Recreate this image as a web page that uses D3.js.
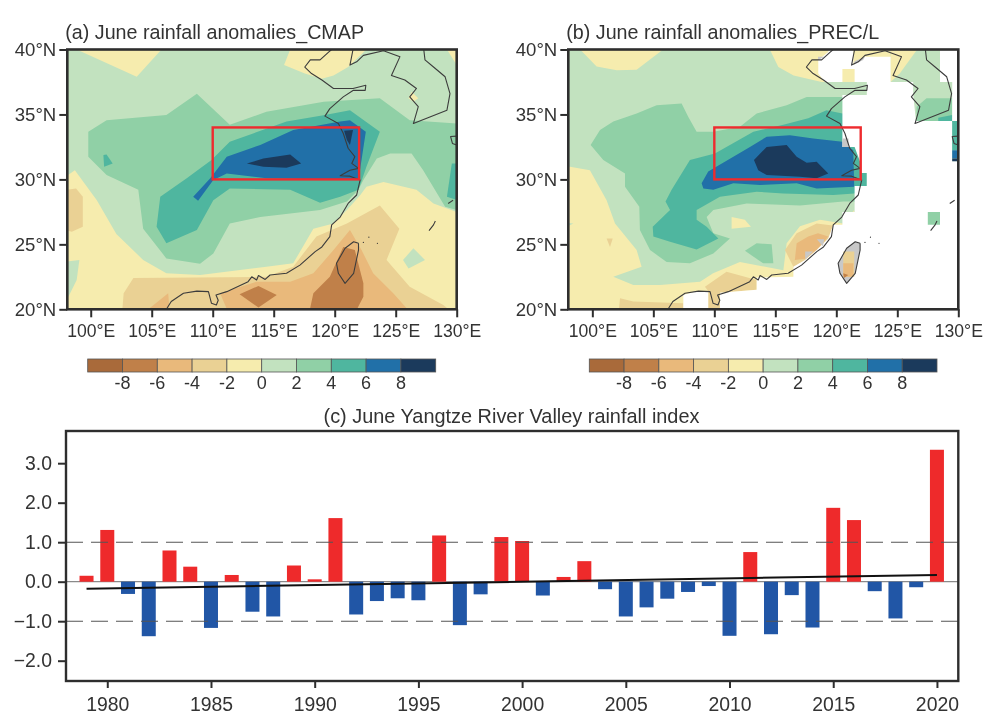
<!DOCTYPE html>
<html><head><meta charset="utf-8">
<script src="https://cdn.jsdelivr.net/npm/d3@7"></script>
<style>
html,body{margin:0;padding:0;background:#fff}
svg{display:block;filter:blur(0.45px)}
text{font-family:"Liberation Sans",Arial,sans-serif;fill:#333}
</style></head><body>
<svg id="chart" width="1000" height="725"></svg>
<script>
// ---------- time series (panel c) ----------
const years = d3.range(1979, 2021);
const indexValues = [0.15,1.31,-0.31,-1.38,0.79,0.38,-1.17,0.17,-0.76,-0.88,0.41,0.06,1.61,-0.83,-0.49,-0.42,-0.47,1.17,-1.10,-0.32,1.13,1.03,-0.35,0.12,0.52,-0.19,-0.88,-0.65,-0.43,-0.26,-0.11,-1.37,0.75,-1.33,-0.34,-1.16,1.87,1.56,-0.24,-0.93,-0.14,3.34];
const trendYears = [1979, 2020];
const trendValues = [-0.18, 0.17];
const yTicks = [-2,-1,0,1,2,3];
const xTicks = [1980,1985,1990,1995,2000,2005,2010,2015,2020];
const refLines = [-1,1];

// ---------- maps: shared ----------
const lonTicks = [100,105,110,115,120,125,130];
const latTicks = [20,25,30,35,40];
const levels = [-8,-6,-4,-2,0,2,4,6,8];
const levelColors = ["#a96a3a","#c08049","#e9b97b","#ead194","#f6ecae","#c2e2bf","#90d0a6","#4fb69f","#2170a8","#1b3a5c"];
const boxLon = [110,122], boxLat = [30,34];

// coastlines (lon, lat)
const coastMain = [[106.2,20],[106.6,20.6],[107.6,21.23],[108.7,21.4],[109.65,21.36],[109.9,20.46],[110.3,20.33],[110.45,20.7],[110.27,21.1],[111.15,21.36],[112.9,22.13],[113.2,22.5],[113.6,22.26],[113.75,22.6],[114.3,22.3],[114.7,22.64],[116.05,22.77],[117.15,23.4],[118.4,24.44],[118.95,24.8],[119.6,25.6],[119.75,26.5],[120.45,27.1],[121.1,28.15],[121.8,28.8],[122.08,29.95],[121.25,30.25],[120.45,30.28],[121.25,30.7],[121.95,30.85],[121.4,31.23],[121.65,31.75],[121.1,32.4],[120.7,33.55],[120.3,34.3],[119.2,34.87],[119.6,35.45],[120.7,36.35],[121.5,36.85],[122.5,36.85],[122.55,37.25],[121.5,37],[119.9,37],[118.95,37.65],[118.1,38.15],[117.55,38.65],[118,39.2],[118.8,39.2],[119.5,39.8],[119.75,40]];
const coastNorth = [[121.5,40],[121.25,38.8],[121.8,39.05],[122.35,39.55],[124,39.9],[125.35,39.45],[124.65,38],[125.75,37.65],[126.7,37],[126.15,36.35],[126.85,35.6],[126.45,34.3],[127.8,34.8],[129.2,35.33],[129.45,36.6],[129.05,37.9],[128.1,38.65],[127.4,39.2],[127.3,40]];
const coastTaiwan = [[121.95,25.08],[121.55,25.2],[120.85,24.7],[120.15,23.54],[120.3,22.77],[120.85,22],[121.55,22.77],[121.95,24.56],[121.95,25.08]];
const coastKyushu = [[130,33.33],[129.5,33.3],[129.65,32.77],[130,32.65]];
const coastIslet1 = [[129.3,28.15],[129.7,28.4]];
const coastIslet2 = [[127.73,26.05],[128.1,26.5],[128.25,26.8]];
const coastLines = [coastMain,coastNorth,coastTaiwan,coastKyushu,coastIslet1,coastIslet2];
const islandDots = [[122.35,25.15],[122.8,25.55],[123.5,25.08]];

// ---------- panel (a) contour polygons (lon, lat) ----------
const aGreen0 = [[97,40],[98.85,40],[103.77,37.9],[105.8,40],[116.35,40],[115.85,38.8],[117.55,38.15],[118.95,37.75],[119.9,38],[121.1,38.65],[122.6,40],[129.2,40],[130,38.8],[131,38.8],[131,27.3],[130,27.5],[128.1,28.15],[126.7,29.2],[124,29.8],[122.6,29.44],[122.1,28.8],[121,27.64],[119.9,26.6],[118.25,26.2],[116.6,23.54],[114.4,23.28],[108.96,22.64],[106.2,22.77],[104.3,23.8],[102.1,25.8],[100.5,28.4],[98.7,30.7],[97,29.6]];
const aGreen0b = [[97,23.54],[99.07,23.8],[98.85,22.26],[98.17,20.97],[97,20.97]];
const aGreen0c = [[125.6,23.8],[126.45,24.7],[127.4,23.8],[126.05,23.15]];
const aYellowKorea = [[126.05,36.25],[126.3,36.75],[126.85,36.25],[126.45,35.97]];
const aGreen2 = [[99.8,33.67],[101.3,34.55],[106.2,34.95],[108.7,36.6],[111.4,34.2],[114.4,35.2],[119.1,35.97],[123.7,36.25],[126.15,34.55],[130,34.3],[131,34.3],[131,27.6],[130,27.64],[129.05,27.9],[127.25,30.7],[126.3,32],[124.55,32],[123.45,31.6],[122.35,29.95],[121.95,29.2],[121,28.3],[118.8,27.64],[113.9,27.1],[111.4,26.6],[110.05,24.3],[108.96,23.5],[106.2,23.92],[104.3,26.2],[103.9,29.2],[101.3,30.33],[99.8,31.75]];
const aTeal = [[105.4,26.35],[105.7,28.67],[107.87,30.08],[109.9,31.5],[111.4,32.9],[116.05,34.45],[119.2,34.95],[121.25,35.33],[123.7,33.67],[122.6,30.97],[121.95,29.2],[120.45,28.67],[118.8,28.2],[116.35,29.2],[111.4,29.3],[110.05,28.4],[108.7,26.1],[106.2,25.08]];
const aTealB = [[101.04,31.87],[101.3,31.92],[101.8,31.23],[101.1,30.97]];
const aTealC = [[129.6,31.23],[131,31.23],[131,28.1],[129.2,28.67]];
const aBlue = [[108.4,28.67],[109.8,30.08],[111.15,31.75],[113.9,32.65],[116.6,33.8],[120.45,34.45],[121.25,34.55],[122.55,33.67],[121.95,29.95],[114.4,30.08],[111.15,30.45],[110.05,29.95],[108.8,28.35]];
const aNavy = [[112.8,31.23],[114.15,31.6],[116.35,31.92],[117.25,31.23],[116.05,30.9],[114.15,30.97]];
const aNavyB = [[120.77,33.75],[121.5,33.8],[121.25,32.65],[121,33.03]];
const aTan2 = [[102.55,19.5],[102.7,21.23],[103.5,22.4],[114.4,22.5],[116.6,23.28],[118.5,25.6],[121,26.6],[123.7,28],[125.3,26.2],[124.25,23.8],[126.15,21.74],[128.9,20.33],[130,19.5]];
const aTan2b = [[97,29.05],[98.8,29.3],[99.35,28.67],[99.35,26.35],[98.45,25.97],[97,26.35]];
const aTan4 = [[104.05,19.5],[106.35,21.23],[106.5,19.5]];
const aTan4b = [[110.6,21.23],[113.6,22.13],[116.35,22.13],[118.25,22.77],[119.9,24.56],[121.25,26.1],[122.2,24.56],[123.15,22.77],[124.8,21.23],[126.45,19.5],[111.4,19.5]];
const aTan6 = [[120.7,24.8],[121.65,24.56],[122.35,22],[122.35,20.97],[121.55,19.5],[117.85,19.5],[118.25,21.23],[119.6,22.5]];
const aTan6b = [[112.2,21.15],[113.75,21.8],[115.25,21.1],[113.75,20.13]];

// ---------- panel (b) contour polygons (lon, lat) ----------
const bGreen0 = [[97,40],[99,40],[100.35,38.7],[102,38.4],[103.63,38.45],[105.8,40],[114.55,40],[115.25,38.65],[116.5,38],[118.8,37.5],[124.45,37.5],[124.45,41],[131,41],[131,27],[121.47,27],[121.47,27.64],[120.57,26.6],[118.66,26.9],[117.02,26.4],[115.93,25.08],[115.66,23],[112.1,23.65],[109.9,22.77],[108.83,22.13],[105.55,21.87],[103.36,21.87],[101.72,22.5],[104.04,23.28],[103.63,24.56],[101.86,26.6],[101.17,28.4],[99.8,30.7],[98.17,30.97],[97,30.97]];
const bGreen0b = [[97,26.75],[98.45,26.6],[97,26]];
const bYellowA = [[111.42,27.1],[112.5,26.9],[113,26.35],[111.42,26.2]];
const bYellowB = [[124.45,41],[127.4,41],[125.2,38.15],[124.45,37.5]];
const bGreen2 = [[99.86,32.65],[100.63,33.8],[101.72,34.45],[103.63,35.08],[105.27,35.7],[107.32,35.85],[107.87,34.8],[108.55,33.67],[109.92,33.67],[112.1,34.05],[113.47,35.08],[115.93,35.7],[117.57,36.35],[120.5,36.35],[122.5,36.35],[122.5,27.7],[121.47,28.3],[120.57,28.3],[117.02,28],[112.65,28.15],[109.92,27.64],[109.37,27.1],[109.92,25.85],[111.28,25.46],[109.92,24.3],[108,23.54],[106.09,23.65],[104.73,24.56],[103.9,26.1],[103.85,27.9],[102.68,29.44],[102.68,30.45],[100.9,31.5]];
const bGreen2b = [[112.51,24.5],[113.47,25.08],[114.7,25],[114.84,23.54],[114,23.54]];
const bGreen2c = [[126.58,35.6],[127.4,36.25],[129.5,36.25],[129.5,34.4],[126.58,34.4]];
const bTeal = [[106,28.3],[106.5,29.2],[108,31.5],[110.05,32],[111.28,32.65],[113.2,33.67],[115.66,34.2],[117.7,34.7],[119.2,35.33],[120.5,35.08],[122.5,35.08],[122.5,29.5],[121.47,28.92],[119.75,28.8],[115.66,28.92],[113.47,29.05],[110.46,28.67],[108.55,27.64],[108.55,26.9],[109.37,26.35],[110.33,25.46],[108.55,24.6],[106.37,25.2],[105,25.6],[104.95,26.35],[106.37,27.64]];
const bTealB = [[128.36,34.75],[129.5,34.95],[129.5,34.4],[128.36,34.4]];
const bBlue = [[108.96,29.7],[109.5,30.6],[111.56,31.75],[112.92,32.5],[114.29,33.28],[116.2,33.4],[118.11,33.15],[120.5,32.9],[121.39,32.25],[121.47,29.44],[118.39,29.3],[116.75,29.7],[113.74,29.57],[111.56,29.7],[109.92,29.2],[109.1,29.3]];
const bNavy = [[113.25,31.5],[114.29,32.5],[115.93,32.65],[116.75,31.75],[117.57,31.28],[118.39,31.35],[119.34,30.45],[118.39,30.08],[117.02,30.2],[114.29,30.33],[113.6,30.7]];
const bTan2A = [[102.13,19.5],[102.27,20.85],[103.36,20.6],[107.46,20.46],[107.46,19.5]];
const bTan2B = [[109.23,21.74],[111,22.9],[113.47,22.26],[113.47,21.5],[110.46,21.28],[110.46,19.5],[109.5,19.5],[109.5,21.4]];
const bTan2C = [[116.48,23.28],[115.79,24.56],[116.75,25.85],[118.39,26.6],[120.5,26.35],[120.5,24],[116.48,23]];
const bTan2E = [[101.17,25.46],[101.67,25.46],[101.45,24.8]];
const bTan4 = [[116.6,23.8],[116.75,25.08],[117.7,25.6],[118.5,25.85],[119.34,25.6],[118.39,24.56],[117.43,23.9]];
// ocean / missing-data mask
const bMaskMain = [[110.46,19.5],[110.46,21.28],[113.47,21.5],[113.47,22.45],[116.48,22.5],[116.48,23.28],[117.43,23.8],[118.39,24.56],[119.34,25.46],[119.75,26.5],[120.5,26.5],[120.5,27.5],[121.5,27.5],[121.5,29.5],[122.5,29.5],[122.5,30.5],[121.95,30.5],[121.95,31.35],[121.5,32.5],[120.5,32.5],[120.5,36.5],[122.5,36.5],[122.5,37.5],[121.5,37.5],[121.5,38.5],[120.5,38.5],[120.5,37.5],[119.07,37.5],[118.52,38.15],[118.52,39.2],[119.34,39.8],[119.6,41],[121.4,41],[121.4,38.8],[122.35,39.45],[124.45,39.45],[124.45,37.5],[126.3,37.5],[126.3,36.6],[126.53,34.5],[129.5,34.5],[129.5,31.4],[131,31.4],[131,19.5]];
const bMaskPocket = [[107.46,19.5],[107.46,21.1],[108.55,21.4],[109.5,21.4],[109.5,19.5]];
const bMaskEast = [[128.5,41],[131,41],[131,34.5],[129.5,34.5],[129.5,37.5],[128.5,37.5]];
// patches of valid data surrounded by the mask
const bIslandBox = [[127.5,27.5],[128.5,27.5],[128.5,26.5],[127.5,26.5]];
const bEdgeTeal = [[129.5,34.5],[131,34.5],[131,32.25],[129.5,32.25]];
const bEdgeBlue = [[129.5,32.25],[131,32.25],[131,31.6],[129.5,31.6]];
const bEdgeNavy = [[129.5,31.6],[131,31.6],[131,31.4],[129.5,31.4]];
const bTaiwanTan2 = [[120.57,24.44],[121.47,24.44],[121.47,22.5],[120.57,22.5]];
const bTaiwanTan4 = [[120.57,23.54],[121.4,23.54],[121.4,22.5],[120.57,22.5]];
const bTaiwanTan6 = [[120.57,22.77],[120.98,22.64],[120.63,22.4]];
const bGrayPatches = [
  [[118.5,39.45],[119.05,39.45],[118.5,39.2]],
  [[121.4,38.8],[122.2,39.2],[122.35,39.45],[121.5,39.1]],
  [[120.5,33.15],[121,33.15],[121,32.5],[120.5,32.5]],
  [[118.4,25.4],[119,25.4],[118.9,24.85]],
  [[117.45,24.44],[118.1,24.44],[117.45,23.85]]
];

// ordered layers: [polygon, fill]
const c = levelColors;
const layersA = [
  [aGreen0,c[5]],[aGreen0b,c[5]],[aGreen0c,c[5]],[aYellowKorea,c[4]],
  [aTan2,c[3]],[aTan2b,c[3]],[aTan4,c[2]],[aTan4b,c[2]],[aTan6,c[1]],[aTan6b,c[1]],
  [aGreen2,c[6]],[aTeal,c[7]],[aTealB,c[7]],[aTealC,c[7]],[aBlue,c[8]],[aNavy,c[9]],[aNavyB,c[9]]
];
const layersB = [
  [bGreen0,c[5]],[bGreen0b,c[5]],[bYellowA,c[4]],[bYellowB,c[4]],
  [bTan2A,c[3]],[bTan2B,c[3]],[bTan2C,c[3]],[bTan2E,c[3]],[bTan4,c[2]],
  [bGreen2,c[6]],[bGreen2b,c[6]],[bGreen2c,c[6]],[bTeal,c[7]],[bTealB,c[7]],[bBlue,c[8]],[bNavy,c[9]],
  [bMaskMain,"#fff"],[bMaskPocket,"#fff"],[bMaskEast,"#fff"],
  [bIslandBox,c[6]],[bEdgeTeal,c[7]],[bEdgeBlue,c[8]],[bEdgeNavy,c[9]],
  ...bGrayPatches.map(p=>[p,"#c8c8c8"]),
  [coastTaiwan,"#c8c8c8"],[bTaiwanTan2,c[3]],[bTaiwanTan4,c[2]],[bTaiwanTan6,c[1]]
];

const svg = d3.select("#chart");
const ink = "#2e2e2e";
const fmtHyphen = v => (v<0?"-":"")+Math.abs(v);

function drawMap(cfg){
  const x = d3.scaleLinear().domain([cfg.lon0,130]).range([cfg.left,cfg.right]);
  const y = d3.scaleLinear().domain([20,40]).range([309.3,49.5]);
  const g = svg.append("g");
  const id = "clip"+cfg.id;
  g.append("clipPath").attr("id",id).append("rect")
    .attr("x",cfg.left).attr("y",49.5).attr("width",cfg.right-cfg.left).attr("height",259.8);
  const plot = g.append("g").attr("clip-path",`url(#${id})`);
  plot.append("rect").attr("x",cfg.left).attr("y",49.5).attr("width",cfg.right-cfg.left).attr("height",259.8).attr("fill",c[4]);
  const poly = d3.line().x(d=>x(d[0])).y(d=>y(d[1])).curve(d3.curveLinearClosed);
  const open = d3.line().x(d=>x(d[0])).y(d=>y(d[1]));
  plot.selectAll("path.layer").data(cfg.layers).join("path").attr("class","layer")
    .attr("d",d=>poly(d[0])).attr("fill",d=>d[1]);
  plot.selectAll("path.coast").data(coastLines).join("path").attr("class","coast")
    .attr("d",open).attr("fill","none").attr("stroke","#3c3c3c").attr("stroke-width",1.1).attr("stroke-linejoin","round");
  plot.selectAll("circle.dot").data(islandDots).join("circle").attr("class","dot")
    .attr("cx",d=>x(d[0])).attr("cy",d=>y(d[1])).attr("r",0.6).attr("fill","#333");
  plot.append("rect").attr("x",x(boxLon[0])).attr("y",y(boxLat[1]))
    .attr("width",x(boxLon[1])-x(boxLon[0])).attr("height",y(boxLat[0])-y(boxLat[1]))
    .attr("fill","none").attr("stroke","#ee2b2e").attr("stroke-width",2.4);
  g.append("rect").attr("x",cfg.left).attr("y",49.5).attr("width",cfg.right-cfg.left).attr("height",259.8)
    .attr("fill","none").attr("stroke",ink).attr("stroke-width",2.6);
  const xa = d3.axisBottom(x).tickValues(lonTicks).tickFormat(d=>d+"°E").tickSize(8).tickPadding(7);
  const ya = d3.axisLeft(y).tickValues(latTicks).tickFormat(d=>d+"°N").tickSize(8).tickPadding(3);
  const xg = g.append("g").attr("transform","translate(0,309.3)").call(xa);
  const yg = g.append("g").attr("transform",`translate(${cfg.left},0)`).call(ya);
  [xg,yg].forEach(a=>{
    a.select(".domain").remove();
    a.selectAll("line").attr("stroke",ink).attr("stroke-width",2);
    a.selectAll("text").attr("fill","#333");
  });
  xg.selectAll("text").attr("font-size",17.6);
  yg.selectAll("text").attr("font-size",18.6);
  g.append("text").attr("x",cfg.left-2).attr("y",38.5).attr("font-size",19.7).text(cfg.title);
  // colour bar
  const cb = d3.scaleBand().domain(d3.range(levelColors.length)).range([cfg.cb0,cfg.cb1]);
  g.selectAll("rect.cb").data(levelColors).join("rect").attr("class","cb")
    .attr("x",(d,i)=>cb(i)).attr("y",359).attr("width",cb.bandwidth()).attr("height",13)
    .attr("fill",d=>d).attr("stroke","#555").attr("stroke-width",0.8);
  g.selectAll("text.cbl").data(levels).join("text").attr("class","cbl")
    .attr("x",(d,i)=>cb(i+1)).attr("y",389).attr("text-anchor","middle").attr("font-size",18)
    .text(fmtHyphen);
}
drawMap({id:"a",lon0:98.08,left:67.3,right:456.7,cb0:87.7,cb1:435.7,layers:layersA,title:"(a) June rainfall anomalies_CMAP"});
drawMap({id:"b",lon0:98.03,left:568.3,right:958.3,cb0:589.3,cb1:937,layers:layersB,title:"(b) June rainfall anomalies_PREC/L"});

// ---------- panel (c) ----------
const bx = d3.scaleLinear().domain([1978.01,2021.03]).range([66,958.3]);
const by = d3.scaleLinear().domain([-2.514,3.815]).range([681,431]);
const gc = svg.append("g");
const barW = 14;
gc.append("line").attr("x1",66).attr("x2",958.3).attr("y1",by(0)).attr("y2",by(0)).attr("stroke","#8a8a8a").attr("stroke-width",1.2);
gc.selectAll("rect.bar").data(years).join("rect").attr("class","bar")
  .attr("x",d=>bx(d)-barW/2).attr("width",barW)
  .attr("y",(d,i)=>by(Math.max(0,indexValues[i])))
  .attr("height",(d,i)=>Math.abs(by(indexValues[i])-by(0)))
  .attr("fill",(d,i)=>indexValues[i]>=0?"#ee2a2b":"#2156a6");
gc.selectAll("line.ref").data(refLines).join("line").attr("class","ref")
  .attr("x1",66).attr("x2",958.3).attr("y1",d=>by(d)).attr("y2",d=>by(d))
  .attr("stroke","#555").attr("stroke-width",1.1).attr("stroke-dasharray","17,8");
gc.append("path").attr("d",d3.line().x((d,i)=>bx(d)).y((d,i)=>by(trendValues[i]))(trendYears))
  .attr("stroke","#111").attr("stroke-width",2).attr("fill","none");
gc.append("rect").attr("x",66).attr("y",431).attr("width",892.3).attr("height",250)
  .attr("fill","none").attr("stroke",ink).attr("stroke-width",2.4);
const bxa = d3.axisBottom(bx).tickValues(xTicks).tickFormat(d3.format("d")).tickSize(7).tickPadding(9);
const bya = d3.axisLeft(by).tickValues(yTicks).tickFormat(d=>(d<0?"\u2212":"")+Math.abs(d).toFixed(1)).tickSize(8).tickPadding(6);
[gc.append("g").attr("transform","translate(0,681)").call(bxa),
 gc.append("g").attr("transform","translate(66,0)").call(bya)].forEach(a=>{
  a.select(".domain").remove();
  a.selectAll("line").attr("stroke",ink).attr("stroke-width",2);
  a.selectAll("text").attr("font-size",19.4).attr("fill","#333");
});
gc.append("text").attr("x",511.5).attr("y",422.5).attr("text-anchor","middle").attr("font-size",19.9).text("(c) June Yangtze River Valley rainfall index");
</script>
</body></html>
